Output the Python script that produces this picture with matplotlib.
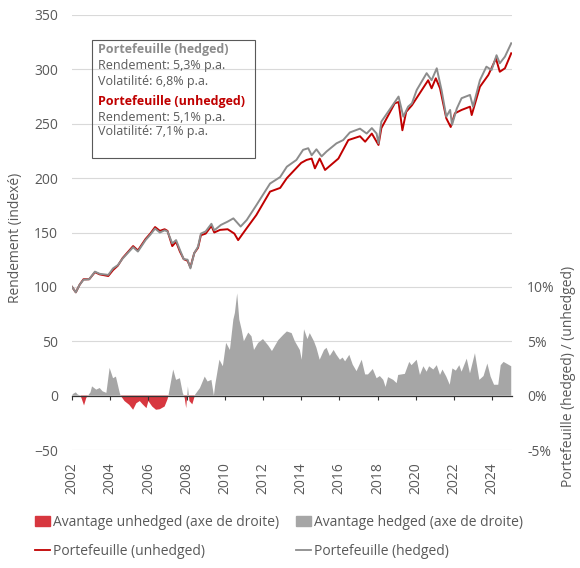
import numpy as np
import matplotlib
matplotlib.use('Agg')
import matplotlib.pyplot as plt
from matplotlib.patches import Patch, Rectangle
from matplotlib.lines import Line2D

plt.rcParams['font.family'] = ['Open Sans', 'DejaVu Sans']

TXT = '#595959'
RED_LINE = '#c00000'
GRAY_LINE = '#8c8c8c'
RED_FILL = '#d7373f'
GRAY_FILL = '#a6a6a6'

# Portefeuille (hedged), indexed
hedged_x = [2002.0, 2002.2, 2002.4, 2002.6, 2002.9, 2003.2, 2003.45, 2003.9, 2004.15, 2004.4,
            2004.65, 2005.2, 2005.45, 2005.85, 2006.1, 2006.35, 2006.6, 2006.85, 2007.0, 2007.25,
            2007.45, 2007.65, 2007.85, 2008.05, 2008.2, 2008.4, 2008.6, 2008.75, 2009.0, 2009.3,
            2009.45, 2009.8, 2010.15, 2010.45, 2010.83, 2011.15, 2011.65, 2012.37, 2012.9, 2013.25,
            2013.75, 2014.1, 2014.37, 2014.55, 2014.8, 2015.07, 2015.33, 2015.85, 2016.2, 2016.55,
            2017.08, 2017.43, 2017.7, 2017.95, 2018.05, 2018.2, 2018.5, 2019.1, 2019.35, 2019.6,
            2019.8, 2020.05, 2020.57, 2020.83, 2021.1, 2021.35, 2021.6, 2021.8, 2021.9, 2022.15,
            2022.4, 2022.84, 2023.0, 2023.36, 2023.7, 2023.97, 2024.23, 2024.4, 2024.67, 2025.0]
hedged_y = [100, 95, 102, 106.5, 107, 114, 112, 111, 117, 120,
            126, 136.5, 132.5, 143, 148, 153.6, 150, 152, 151, 140,
            143, 134, 125.5, 125, 117, 131, 137, 149, 151, 158,
            152, 157, 160, 163, 155.5, 161.5, 175, 195, 201, 210.5,
            216.7, 226, 227.5, 221, 226.5, 220, 224.5, 232, 235, 242,
            245.5, 241, 246, 241, 232, 252, 259.6, 275, 256.5, 265.7,
            268.8, 281, 296.5, 290, 301, 281, 256.5, 262.7, 249, 264,
            273.5, 276.5, 265.7, 290, 302.5, 299.4, 313, 305.6, 311.7, 324]

# Portefeuille (unhedged), indexed
unhedged_x = [2002.0, 2002.2, 2002.4, 2002.6, 2002.9, 2003.2, 2003.45, 2003.9, 2004.15, 2004.4,
              2004.65, 2005.2, 2005.45, 2005.85, 2006.1, 2006.35, 2006.6, 2006.85, 2007.0, 2007.25,
              2007.45, 2007.65, 2007.85, 2008.05, 2008.2, 2008.4, 2008.6, 2008.75, 2009.0, 2009.3,
              2009.45, 2009.75, 2010.15, 2010.5, 2010.7, 2011.15, 2011.65, 2012.37, 2012.9, 2013.25,
              2014.0, 2014.28, 2014.55, 2014.72, 2014.97, 2015.25, 2015.95, 2016.47, 2017.08, 2017.35,
              2017.7, 2018.05, 2018.2, 2018.9, 2019.1, 2019.3, 2019.5, 2019.8, 2020.65, 2020.83,
              2021.05, 2021.27, 2021.6, 2021.83, 2022.05, 2022.4, 2022.84, 2022.93, 2023.36, 2023.8,
              2024.2, 2024.4, 2024.67, 2025.0]
unhedged_y = [100, 95, 102, 107, 107, 113.5, 111.5, 110, 115.5, 119.5,
              126.5, 137.5, 133.5, 144, 149, 155, 151.5, 153, 151.5, 137.5,
              141.5, 132.5, 125.5, 124, 118, 131, 136, 147.5, 149, 156,
              150, 152.4, 153, 149, 143, 154, 166, 187.6, 191, 200,
              214, 216.7, 218, 209, 218, 207.5, 218, 235, 238.5, 233.5,
              241, 230.5, 246, 268.8, 270, 244, 261, 267, 290, 282.6,
              291.8, 282.6, 255, 247, 259.6, 262.7, 265.7, 258, 284, 294.8,
              310, 297.8, 301, 314.8]

# Avantage hedged (+) / unhedged (-), in %
adv_x = [2002.0, 2002.05, 2002.2, 2002.3, 2002.45, 2002.63, 2002.75, 2002.97, 2003.05, 2003.27,
         2003.45, 2003.6, 2003.8, 2003.97, 2004.15, 2004.3, 2004.5, 2004.55, 2004.75, 2005.0,
         2005.2, 2005.37, 2005.55, 2005.7, 2005.9, 2006.0, 2006.2, 2006.4, 2006.6, 2006.85,
         2007.0, 2007.05, 2007.3, 2007.45, 2007.65, 2007.8, 2007.9, 2007.98, 2008.07, 2008.15,
         2008.3, 2008.45, 2008.7, 2008.95, 2009.1, 2009.3, 2009.43, 2009.5, 2009.72, 2009.9,
         2010.07, 2010.27, 2010.45, 2010.53, 2010.65, 2010.76, 2010.88, 2011.0, 2011.23, 2011.4,
         2011.53, 2011.75, 2012.0, 2012.28, 2012.47, 2012.8, 2013.07, 2013.25, 2013.5, 2013.67,
         2013.93, 2014.03, 2014.15, 2014.33, 2014.45, 2014.67, 2014.8, 2014.97, 2015.2, 2015.33,
         2015.5, 2015.7, 2015.85, 2016.03, 2016.17, 2016.3, 2016.52, 2016.7, 2016.9, 2017.17,
         2017.35, 2017.5, 2017.75, 2017.95, 2018.12, 2018.3, 2018.42, 2018.55, 2018.82, 2019.0,
         2019.08, 2019.43, 2019.66, 2019.78, 2020.05, 2020.22, 2020.4, 2020.57, 2020.7, 2020.92,
         2021.1, 2021.27, 2021.4, 2021.6, 2021.78, 2021.92, 2022.1, 2022.28, 2022.4, 2022.67,
         2022.84, 2023.1, 2023.33, 2023.55, 2023.75, 2023.92, 2024.1, 2024.32, 2024.45, 2024.6,
         2024.8, 2025.0]
adv_y = [0, 0.15, 0.3, 0.1, 0, -0.9, -0.2, 0.3, 0.85, 0.55,
         0.7, 0.4, 0.25, 2.55, 1.6, 1.75, 0.25, 0, -0.5, -0.85,
         -1.3, -0.7, -0.5, -0.8, -1.15, -0.5, -1.0, -1.3, -1.25, -1.0,
         -0.35, 0, 2.4, 1.45, 1.6, 0.25, -0.2, -1.15, 0.85, -0.5,
         -0.8, 0.1, 0.7, 1.75, 1.3, 1.45, 0, 1.0, 3.3, 2.7,
         4.85, 4.2, 7.0, 7.6, 9.4, 7.0, 6.1, 5.0, 5.8, 5.45,
         4.2, 4.85, 5.2, 4.6, 4.1, 5.1, 5.6, 5.9, 5.75, 5.0,
         4.2, 3.3, 6.1, 5.2, 5.75, 5.0, 4.4, 3.3, 4.2, 4.4,
         3.65, 4.2, 3.75, 3.3, 3.5, 3.15, 3.75, 2.85, 2.25, 3.3,
         1.95, 1.95, 2.45, 1.6, 1.8, 1.45, 0.8, 1.7, 1.45, 1.15,
         1.9, 2.0, 3.1, 2.8, 3.3, 1.9, 2.7, 2.2, 2.7, 2.4,
         2.8, 1.9, 2.4, 1.75, 1.0, 2.5, 2.3, 2.8, 2.2, 3.4,
         2.05, 3.9, 1.45, 1.8, 2.95, 1.75, 1.0, 1.0, 2.8, 3.1,
         2.9, 2.7]

year_ticks = list(range(2002, 2025, 2))
left_ticks = [-50, 0, 50, 100, 150, 200, 250, 300, 350]
right_ticks = [-5, 0, 5, 10]

fig = plt.figure(figsize=(5.8, 5.68), dpi=100)
ax = fig.add_axes([72 / 580, 1 - 450 / 568, 440 / 580, 435 / 568])
ax2 = ax.twinx()

# area on right axis (behind lines)
ax_x = np.array(adv_x)
ax_y = np.array(adv_y)
ax2.fill_between(ax_x, ax_y, 0, where=ax_y >= 0, interpolate=True, color=GRAY_FILL, lw=0)
ax2.fill_between(ax_x, ax_y, 0, where=ax_y <= 0, interpolate=True, color=RED_FILL, lw=0)
ax2.set_ylim(-5, 35)
ax2.set_yticks(right_ticks)
ax2.set_yticklabels([f'{t}%' for t in right_ticks])

ax.set_zorder(ax2.get_zorder() + 1)
ax.patch.set_visible(False)

ax.plot(unhedged_x, unhedged_y, color=RED_LINE, lw=1.4)
ax.plot(hedged_x, hedged_y, color=GRAY_LINE, lw=1.4)
ax.set_ylim(-50, 350)
ax.set_xlim(2002, 2025.04)
ax.set_yticks(left_ticks)
ax.set_xticks(year_ticks)
ax.set_xticklabels([str(y) for y in year_ticks], rotation=90)

for g in left_ticks:
    if g != 0:
        ax2.axhline(g / 10, color='#d9d9d9', lw=0.8, zorder=0)

for a in (ax, ax2):
    for s in a.spines.values():
        s.set_visible(False)
ax.tick_params(axis='both', length=0, colors=TXT, labelsize=10)
ax.tick_params(axis='y', pad=10)
ax.tick_params(axis='x', pad=9)
ax2.tick_params(axis='y', length=0, colors=TXT, labelsize=10, pad=11)

# zero axis line with downward ticks
sec = ax.secondary_xaxis(50 / 400)
sec.set_xticks(year_ticks)
sec.set_xticklabels([])
sec.tick_params(axis='x', direction='out', length=3, width=0.8, color='#333333')
sec.spines['bottom'].set_color('#333333')
sec.spines['bottom'].set_linewidth(0.9)

fig.text(16 / 580, 1 - 238 / 568, 'Rendement (indexé)', rotation=90, ha='center', va='center',
         color=TXT, fontsize=10)
fig.text(568 / 580, 1 - 376 / 568, 'Portefeuille (hedged) / (unhedged)', rotation=90,
         ha='center', va='center', color=TXT, fontsize=10)

# info box
fig.patches.append(Rectangle((92 / 580, 1 - 158 / 568), 163 / 580, 118 / 568,
                             transform=fig.transFigure, fill=False, ec='#595959', lw=0.8))
box_lines = [
    ('Portefeuille (hedged)', GRAY_LINE, 'bold', 50),
    ('Rendement: 5,3% p.a.', TXT, 'normal', 65),
    ('Volatilité: 6,8% p.a.', TXT, 'normal', 81),
    ('Portefeuille (unhedged)', RED_LINE, 'bold', 101),
    ('Rendement: 5,1% p.a.', TXT, 'normal', 117),
    ('Volatilité: 7,1% p.a.', TXT, 'normal', 132),
]
for txt, col, wt, yy in box_lines:
    fig.text(98 / 580, 1 - yy / 568, txt, color=col, fontweight=wt, fontsize=9,
             ha='left', va='center')

handles = [Patch(color=RED_FILL), Line2D([], [], color=RED_LINE, lw=1.3),
           Patch(color=GRAY_FILL), Line2D([], [], color=GRAY_LINE, lw=1.3)]
labels = ['Avantage unhedged (axe de droite)', 'Portefeuille (unhedged)',
          'Avantage hedged (axe de droite)', 'Portefeuille (hedged)']
leg = fig.legend(handles, labels, ncol=2, loc='upper left', bbox_to_anchor=(28 / 580, 1 - 508 / 568),
                 frameon=False, fontsize=10, handlelength=1.1, handleheight=0.7,
                 handletextpad=0.2, labelspacing=1.0, columnspacing=1.2, borderpad=0)
for t in leg.get_texts():
    t.set_color(TXT)

fig.savefig('out.png', dpi=100)
